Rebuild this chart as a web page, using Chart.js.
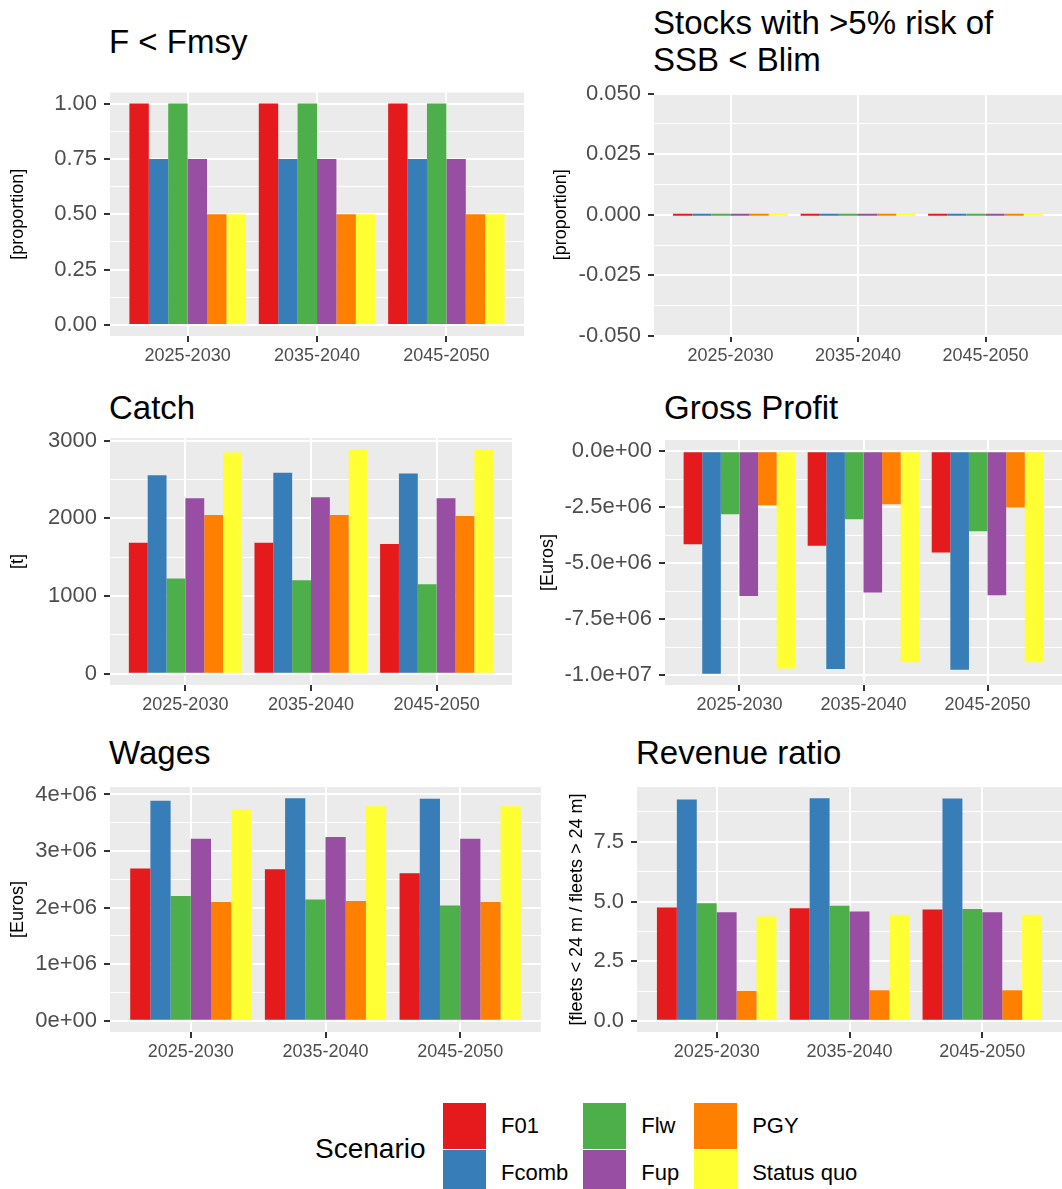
<!DOCTYPE html>
<html>
<head>
<meta charset="utf-8">
<script src="https://cdn.jsdelivr.net/npm/chart.js@4.4.1/dist/chart.umd.min.js"></script>
<style>
  body { margin: 0; background: #fff; }
  #page { position: relative; width: 1062px; height: 1189px; overflow: hidden;
          font-family: 'Liberation Sans', Arial, sans-serif; }
  #page canvas { position: absolute; }
  .title { position: absolute; font-size: 33px; line-height: 33px; color: #000; white-space: nowrap; }
  .title.two { line-height: 36.5px; }
  #legendTitle { position: absolute; left: 315px; top: 1135px; font-size: 28px; line-height: 28px; }
  #legend { position: absolute; left: 443px; top: 1103px; display: grid;
            grid-auto-flow: column; grid-template-rows: 46px 46px; row-gap: 1px; column-gap: 15px; }
  .item { display: flex; align-items: center; height: 46px; }
  .key { width: 43px; height: 46px; }
  .lab { margin-left: 15px; font-size: 22px; line-height: 22px; }
</style>
</head>
<body>
<div id="page">
  <div class="title" style="left:109px; top:25px">F &lt; Fmsy</div>
  <div class="title two" style="left:653px; top:5px">Stocks with &gt;5% risk of<br>SSB &lt; Blim</div>
  <div class="title" style="left:109px; top:391px">Catch</div>
  <div class="title" style="left:664px; top:391px">Gross Profit</div>
  <div class="title" style="left:109px; top:736px">Wages</div>
  <div class="title" style="left:636px; top:736px">Revenue ratio</div>
  <div id="legendTitle">Scenario</div>
  <div id="legend"></div>
</div>
<script>
// chart data, rows follow scenarios, columns follow periods
const periods = ['2025-2030', '2035-2040', '2045-2050'];
const scenarios = ['F01', 'Fcomb', 'Flw', 'Fup', 'PGY', 'Status quo'];
const scenarioColors = ['#E41A1C', '#377EB8', '#4DAF4A', '#984EA3', '#FF7F00', '#FFFF33'];

const fBelowFmsy = [
    [1, 1, 1],
    [0.75, 0.75, 0.75],
    [1, 1, 1],
    [0.75, 0.75, 0.75],
    [0.5, 0.5, 0.5],
    [0.5, 0.5, 0.5]
];
const ssbRisk = [
    [0, 0, 0],
    [0, 0, 0],
    [0, 0, 0],
    [0, 0, 0],
    [0, 0, 0],
    [0, 0, 0]
];
const catchTonnes = [
    [1687, 1687, 1670],
    [2557, 2587, 2578],
    [1226, 1204, 1152],
    [2261, 2274, 2261],
    [2043, 2043, 2030],
    [2848, 2891, 2891]
];
const grossProfit = [
    [-4.15e6, -4.22e6, -4.52e6],
    [-9.94e6, -9.72e6, -9.76e6],
    [-2.82e6, -3.04e6, -3.57e6],
    [-6.46e6, -6.31e6, -6.43e6],
    [-2.42e6, -2.37e6, -2.51e6],
    [-9.70e6, -9.42e6, -9.42e6]
];
const wages = [
    [2.690e6, 2.679e6, 2.607e6],
    [3.887e6, 3.935e6, 3.923e6],
    [2.204e6, 2.145e6, 2.039e6],
    [3.218e6, 3.247e6, 3.218e6],
    [2.098e6, 2.116e6, 2.098e6],
    [3.733e6, 3.793e6, 3.793e6]
];
const revenueRatio = [
    [4.75, 4.72, 4.66],
    [9.27, 9.33, 9.31],
    [4.93, 4.82, 4.69],
    [4.55, 4.58, 4.55],
    [1.25, 1.28, 1.28],
    [4.37, 4.44, 4.44]
];

// major y ticks per panel
const ticksFmsy = [0, 0.25, 0.5, 0.75, 1];
const ticksSsb = [-0.05, -0.025, 0, 0.025, 0.05];
const ticksCatch = [0, 1000, 2000, 3000];
const ticksProfit = [-1e7, -7.5e6, -5e6, -2.5e6, 0];
const ticksWages = [0, 1e6, 2e6, 3e6, 4e6];
const ticksRatio = [0, 2.5, 5, 7.5];

// R style scientific labels, e.g. -2.5e+06
function sci(digits) {
    return v => {
        const s = v.toExponential(digits);
        const [m, e] = s.split('e');
        const sign = e[0] === '-' ? '-' : '+';
        return m + 'e' + sign + e.replace(/[+-]/, '').padStart(2, '0');
    };
}

const FONT = "'Liberation Sans', Arial, sans-serif";
Chart.defaults.font.family = FONT;

// box = canvas [left, top, width, height], area = grey panel [left, top, right, bottom]
const panels = [
    { values: fBelowFmsy, ticks: ticksFmsy, fmt: v => v.toFixed(2), yTitle: '[proportion]',
      box: [0, 85, 531, 290], area: [110, 92.5, 524, 336], yTitleX: 18.3 },
    { values: ssbRisk, ticks: ticksSsb, fmt: v => v.toFixed(3), yTitle: '[proportion]', minBar: 2,
      box: [531, 85, 531, 290], area: [654, 93.5, 1062, 336], yTitleX: 561 },
    { values: catchTonnes, ticks: ticksCatch, fmt: v => String(v), yTitle: '[t]',
      box: [0, 430, 531, 290], area: [110, 438, 512, 685], yTitleX: 18.3 },
    { values: grossProfit, ticks: ticksProfit, fmt: sci(1), yTitle: '[Euros]',
      box: [531, 430, 531, 290], area: [665, 440, 1062, 685], yTitleX: 548 },
    { values: wages, ticks: ticksWages, fmt: sci(0), yTitle: '[Euros]',
      box: [0, 777, 545, 290], area: [110, 787, 541, 1032], yTitleX: 18.3 },
    { values: revenueRatio, ticks: ticksRatio, fmt: v => v.toFixed(1), yTitle: '[fleets < 24 m / fleets > 24 m]',
      box: [545, 777, 517, 290], area: [637, 787, 1062, 1032], yTitleX: 577 }
];

// grey panel background like ggplot
const panelBackground = {
    id: 'panelBackground',
    beforeDraw(chart) {
        const { ctx, chartArea: a } = chart;
        ctx.save();
        ctx.fillStyle = '#EBEBEB';
        ctx.fillRect(a.left, a.top, a.right - a.left, a.bottom - a.top);
        ctx.restore();
    }
};

const gridOpts = {
    color: '#FFFFFF',
    lineWidth: ctx => (ctx.tick && ctx.tick.minor) ? 1 : 2,
    tickColor: ctx => (ctx.tick && ctx.tick.minor) ? 'rgba(0,0,0,0)' : '#333333',
    tickWidth: 2,
    tickLength: 6,
    offset: false
};

const page = document.getElementById('page');

function makeChart(p) {
    const [cx, cy, cw, ch] = p.box;
    const [gl, gt, gr, gb] = p.area;
    const canvas = document.createElement('canvas');
    canvas.width = cw;
    canvas.height = ch;
    canvas.style.left = cx + 'px';
    canvas.style.top = cy + 'px';
    page.appendChild(canvas);

    // ggplot style limits: include 0, expand by 5%
    const flat = p.values.flat();
    let lo = Math.min(0, ...flat), hi = Math.max(0, ...flat);
    if (hi === lo) {
        lo -= 0.05; hi += 0.05;
    } else {
        const pad = (hi - lo) * 0.05;
        lo -= pad; hi += pad;
    }

    // minor gridlines half way between majors
    const step = p.ticks[1] - p.ticks[0];
    const minors = [p.ticks[0] - step / 2].concat(p.ticks.map(v => v + step / 2))
        .filter(v => v >= lo && v <= hi);
    const yTicks = p.ticks.filter(v => v >= lo - 1e-12 && v <= hi + 1e-12)
        .map(v => ({ value: v }))
        .concat(minors.map(v => ({ value: v, minor: true })))
        .sort((a, b) => a.value - b.value);

    new Chart(canvas, {
        type: 'bar',
        data: {
            datasets: scenarios.map((name, k) => ({
                label: name,
                data: periods.map((_, i) => ({ x: i, y: p.values[k][i] })),
                backgroundColor: scenarioColors[k],
                borderWidth: 0,
                categoryPercentage: 0.9,
                barPercentage: 1,
                minBarLength: p.minBar || 0
            }))
        },
        options: {
            responsive: false,
            animation: false,
            devicePixelRatio: 1,
            layout: { padding: { top: gt - cy, right: cx + cw - gr, left: 0, bottom: 0 } },
            plugins: { legend: { display: false }, tooltip: { enabled: false } },
            scales: {
                x: {
                    type: 'linear',
                    offset: false,
                    min: -0.6,
                    max: periods.length - 0.4,
                    afterBuildTicks: s => { s.ticks = periods.map((_, i) => ({ value: i })); },
                    afterFit: s => { s.height = cy + ch - gb; s.paddingLeft = 0; s.paddingRight = 0; },
                    ticks: {
                        callback: v => periods[v],
                        color: '#4D4D4D',
                        font: { size: 18 },
                        padding: 3,
                        maxRotation: 0,
                        autoSkip: false
                    },
                    grid: gridOpts,
                    border: { display: false }
                },
                y: {
                    min: lo,
                    max: hi,
                    afterBuildTicks: s => { s.ticks = yTicks.map(t => Object.assign({}, t)); },
                    afterFit: s => { s.width = gl - cx; s.paddingTop = 0; s.paddingBottom = 0; },
                    ticks: {
                        callback: v => p.ticks.includes(v) ? p.fmt(v) : '',
                        color: '#4D4D4D',
                        font: { size: 22 },
                        padding: 7,
                        autoSkip: false
                    },
                    grid: gridOpts,
                    border: { display: false },
                    title: {
                        display: true,
                        text: p.yTitle,
                        color: '#000000',
                        font: { size: 18 },
                        padding: { top: p.yTitleX - cx - 10.8, bottom: 0 }
                    }
                }
            }
        },
        plugins: [panelBackground]
    });
}

panels.forEach(makeChart);

// legend, filled column by column like the ggplot guide
const legend = document.getElementById('legend');
scenarios.forEach((name, k) => {
    const item = document.createElement('div');
    item.className = 'item';
    const key = document.createElement('div');
    key.className = 'key';
    key.style.background = scenarioColors[k];
    const lab = document.createElement('span');
    lab.className = 'lab';
    lab.textContent = name;
    item.appendChild(key);
    item.appendChild(lab);
    legend.appendChild(item);
});
</script>
</body>
</html>
